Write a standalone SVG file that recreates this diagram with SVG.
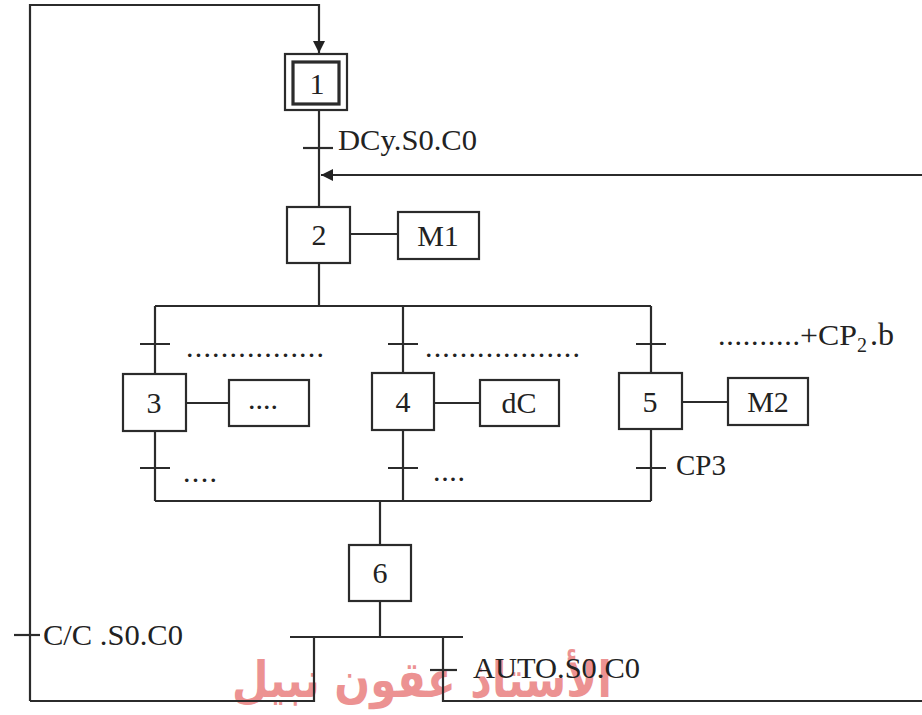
<svg xmlns="http://www.w3.org/2000/svg" width="922" height="715" viewBox="0 0 922 715">
<style>
.ln{fill:none;stroke:#2b2b2b;stroke-width:2.2}
.bx{fill:#fff;stroke:#2b2b2b;stroke-width:2.2}
.bx3{fill:none;stroke:#2b2b2b;stroke-width:3.2}
.t{font-family:"Liberation Serif","Times New Roman",serif;font-size:30px;fill:#222}
.c{text-anchor:middle}
.wm{font-family:"DejaVu Sans",sans-serif;font-size:50px;font-weight:bold;fill:#e04a4a;opacity:0.6}
</style>
<defs>
<marker id="ah" viewBox="0 0 12 12" refX="12" refY="6" markerWidth="12" markerHeight="12" markerUnits="userSpaceOnUse" orient="auto">
<path d="M0,0 L12,6 L0,12 z" fill="#222"/>
</marker>
</defs>
<rect width="922" height="715" fill="#fff"/>
<text class="wm" x="422" y="697" text-anchor="middle" textLength="380" lengthAdjust="spacingAndGlyphs">الأستاذ عقون نبيل</text>
<g id="connectors">
<path class="ln" d="M30,701 V5 H319 V53" marker-end="url(#ah)"/>
<path class="ln" d="M922,175 H321" marker-end="url(#ah)"/>
<path class="ln" d="M319,110 V207"/>
<path class="ln" d="M303,148 H333"/>
<path class="ln" d="M350,234 H398"/>
<path class="ln" d="M319,263 V306"/>
<path class="ln" d="M155,306 H651"/>
<path class="ln" d="M155,306 V373 M155,430 V501"/>
<path class="ln" d="M403,306 V373 M403,430 V501"/>
<path class="ln" d="M651,306 V373 M651,430 V501"/>
<path class="ln" d="M140,344 H170 M388,344 H418 M636,344 H666"/>
<path class="ln" d="M140,468 H170 M388,468 H418 M636,468 H666"/>
<path class="ln" d="M186,403 H229 M434,403 H480 M682,402 H728"/>
<path class="ln" d="M155,501 H651"/>
<path class="ln" d="M380,501 V545"/>
<path class="ln" d="M380,601 V637"/>
<path class="ln" d="M290,637 H463"/>
<path class="ln" d="M314,637 V701 H30"/>
<path class="ln" d="M443,637 V701 H922"/>
<path class="ln" d="M14,635 H40"/>
<path class="ln" d="M430,670 H457"/>
</g>
<g id="step1">
<rect class="bx" x="285" y="54" width="62" height="56"/>
<rect class="bx3" x="293" y="62" width="46" height="42"/>
<text class="t c" x="317" y="94">1</text>
</g>
<g id="step2">
<rect class="bx" x="287" y="207" width="63" height="56"/>
<text class="t c" x="319" y="245">2</text>
</g>
<g id="action-M1">
<rect class="bx" x="398" y="212" width="81" height="47"/>
<text class="t c" x="438" y="246">M1</text>
</g>
<g id="step3">
<rect class="bx" x="123" y="374" width="63" height="57"/>
<text class="t c" x="154" y="413">3</text>
</g>
<g id="action-3">
<rect class="bx" x="229" y="380" width="80" height="46"/>
<text class="t c" x="263" y="409">....</text>
</g>
<g id="step4">
<rect class="bx" x="372" y="373" width="62" height="57"/>
<text class="t c" x="403" y="412">4</text>
</g>
<g id="action-dC">
<rect class="bx" x="480" y="380" width="79" height="46"/>
<text class="t c" x="519" y="413">dC</text>
</g>
<g id="step5">
<rect class="bx" x="619" y="373" width="63" height="56"/>
<text class="t c" x="650" y="412">5</text>
</g>
<g id="action-M2">
<rect class="bx" x="728" y="378" width="80" height="47"/>
<text class="t c" x="768" y="412">M2</text>
</g>
<g id="step6">
<rect class="bx" x="349" y="545" width="62" height="56"/>
<text class="t c" x="380" y="583">6</text>
</g>
<g id="labels">
<text class="t" x="338" y="150" textLength="139" lengthAdjust="spacingAndGlyphs">DCy.S0.C0</text>
<text class="t" x="186" y="357" textLength="138" lengthAdjust="spacing">................</text>
<text class="t" x="425" y="357" textLength="155" lengthAdjust="spacing">..................</text>
<text class="t" x="718" y="345" textLength="82" lengthAdjust="spacing">..........</text>
<text class="t" x="800" y="345" textLength="57" lengthAdjust="spacingAndGlyphs">+CP</text>
<text class="t" x="857" y="352" style="font-size:20px">2</text>
<text class="t" x="870" y="345" style="font-size:32px">.b</text>
<text class="t" x="183" y="482" textLength="34" lengthAdjust="spacing">....</text>
<text class="t" x="433" y="481" textLength="32" lengthAdjust="spacing">....</text>
<text class="t" x="676" y="475" textLength="50" lengthAdjust="spacingAndGlyphs">CP3</text>
<text class="t" x="43" y="645" textLength="140" lengthAdjust="spacingAndGlyphs">C/C .S0.C0</text>
<text class="t" x="473" y="678" textLength="167" lengthAdjust="spacingAndGlyphs">AUTO.S0.C0</text>
</g>
</svg>
